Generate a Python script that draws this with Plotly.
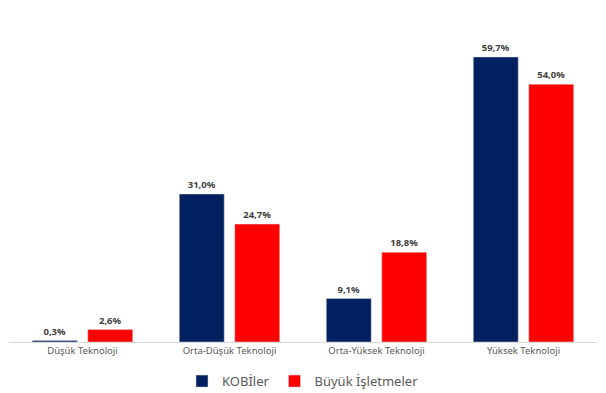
import plotly.graph_objects as go

categories = ["Düşük Teknoloji", "Orta-Düşük Teknoloji", "Orta-Yüksek Teknoloji", "Yüksek Teknoloji"]
kobi = [0.3, 31.0, 9.1, 59.7]
buyuk = [2.6, 24.7, 18.8, 54.0]
series_names = ["KOBİler", "Büyük İşletmeler"]

def fmt(v):
    return f"{v:.1f}%".replace(".", ",")

fig = go.Figure()
for name, vals, col in [(series_names[0], kobi, "#002060"), (series_names[1], buyuk, "#FF0000")]:
    fig.add_trace(go.Bar(
        x=categories, y=vals, name=name,
        marker=dict(color=col, line=dict(color="#d9d9d9", width=0.5)),
        text=[fmt(v) for v in vals], textposition="outside",
        textfont=dict(size=9.5, color="#404040", family="Noto Sans"),
        texttemplate="<b>%{text}</b>", cliponaxis=False,
    ))

fig.update_layout(
    width=598, height=385,
    margin=dict(l=1, r=9, t=12, b=51, autoexpand=False),
    paper_bgcolor="white", plot_bgcolor="white",
    barmode="group", bargap=0.245, bargroupgap=0.19,
    font=dict(family="Noto Sans", color="#595959"),
    showlegend=True,
    legend=dict(orientation="h", x=0.5, xanchor="center", y=-0.075, yanchor="top",
                font=dict(size=13, color="#595959"), itemwidth=30),
    xaxis=dict(showline=True, linecolor="#d9d9d9", linewidth=1, ticks="",
               tickfont=dict(size=9.5, color="#595959"), showgrid=False, automargin=False),
    yaxis=dict(range=[0, 67.45], visible=False, showgrid=False, zeroline=False, automargin=False),
)

fig.write_html("out.html")
